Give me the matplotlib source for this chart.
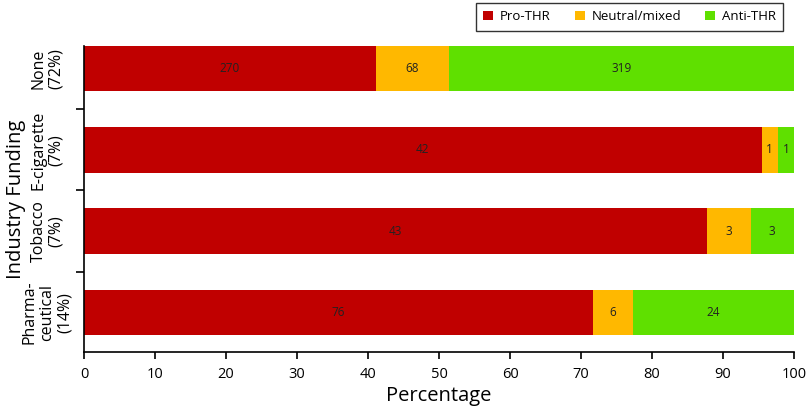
import matplotlib
matplotlib.use("Agg")
import matplotlib.pyplot as plt
import numpy as np

plt.rcParams['font.family'] = ['Open Sans', 'DejaVu Sans']

categories = ["Pharma-\nceutical\n(14%)", "Tobacco\n(7%)", "E-cigarette\n(7%)", "None\n(72%)"]
series_names = ["Pro-THR", "Neutral/mixed", "Anti-THR"]
pro = [76, 43, 42, 270]
neutral = [6, 3, 1, 68]
anti = [24, 3, 1, 319]
colors = ["#C00000", "#FFB800", "#5FE000"]

counts = np.array([pro, neutral, anti], dtype=float)
totals = counts.sum(axis=0)
pct = counts / totals * 100

fig = plt.figure(figsize=(8.1, 4.16), dpi=100)
ax = fig.add_axes([84/810, 1-352/416, 710/810, (352-46)/416])

y = np.arange(len(categories))
left = np.zeros(len(categories))
for i, name in enumerate(series_names):
    ax.barh(y, pct[i], left=left, height=0.56, color=colors[i], label=name,
            edgecolor='none')
    for j in range(len(categories)):
        ax.text(left[j] + pct[i][j]/2, y[j], f"{int(counts[i][j])}",
                ha='center', va='center', fontsize=8.5, color='#222222')
    left += pct[i]

ax.set_xlim(0, 100)
ax.set_ylim(-0.49, 3.28)
ax.set_xticks(np.arange(0, 101, 10))
ax.set_yticks(y)
ax.set_yticklabels(categories, rotation=90, va='center', ha='center',
                   fontsize=11.5, linespacing=1.1)
ax.tick_params(axis='y', length=0, pad=26.5)
ax.set_yticks([0.5, 1.5, 2.5], minor=True)
ax.tick_params(axis='y', which='minor', length=6, width=1.2, direction='out')
ax.tick_params(axis='x', length=5, width=1.2, labelsize=10.5, pad=6)
ax.spines['top'].set_visible(False)
ax.spines['right'].set_visible(False)
ax.spines['left'].set_linewidth(1.2)
ax.spines['bottom'].set_linewidth(1.2)
ax.set_xlabel("Percentage", fontsize=14.5, labelpad=3)
fig.text(16/810, 1-199/416, "Industry Funding", rotation=90, ha='center',
         va='center', fontsize=14.5)

leg = fig.legend(loc='upper left', bbox_to_anchor=(476/810, 1-3/416), ncol=3,
                 fontsize=9.5, frameon=True, fancybox=False, edgecolor='black',
                 handlelength=0.75, handleheight=0.75, columnspacing=1.85,
                 borderpad=0.55, handletextpad=0.5, borderaxespad=0)
leg.get_frame().set_linewidth(1.0)

fig.savefig("out.png", dpi=100)
